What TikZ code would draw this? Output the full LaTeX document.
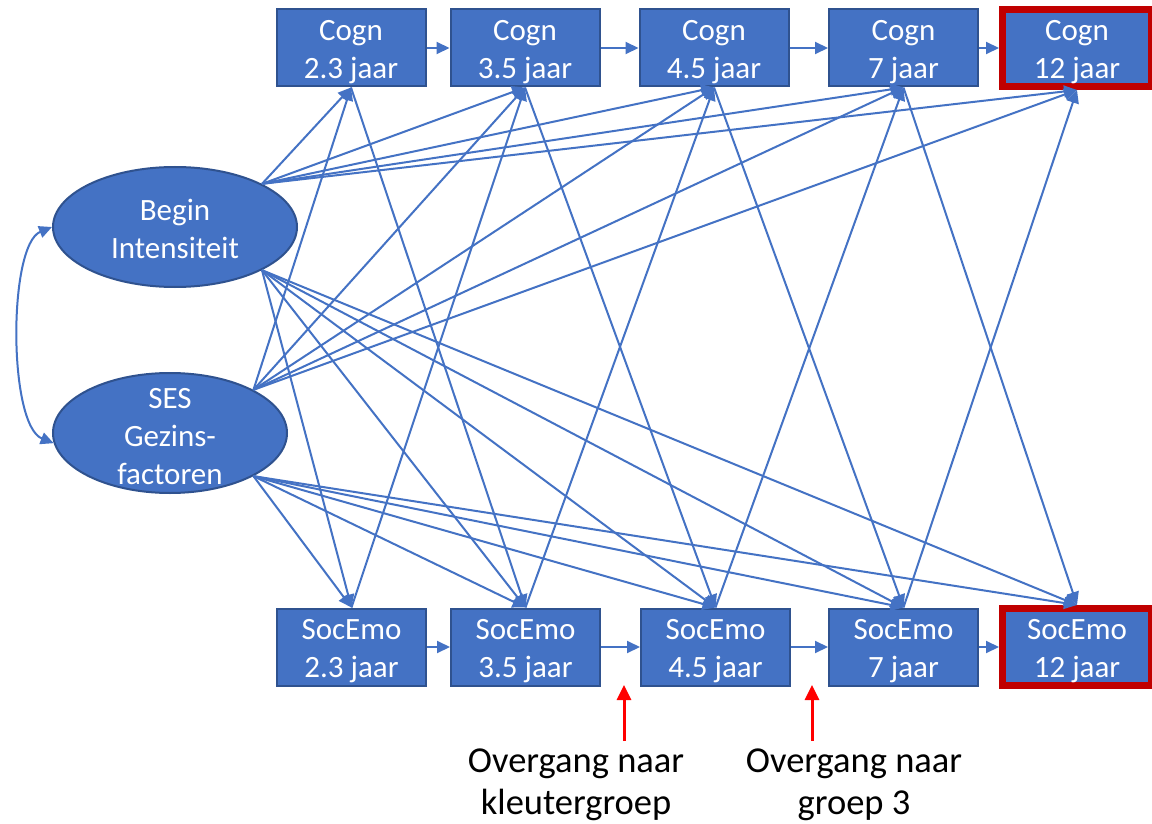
\documentclass[tikz,border=0pt]{standalone}
\usepackage{fontspec}
\setmainfont{Carlito}
\usetikzlibrary{arrows.meta,shapes.geometric}
\definecolor{obl}{HTML}{4472C4}
\definecolor{obd}{HTML}{2F528F}
\definecolor{frm}{HTML}{C00000}
\definecolor{rarr}{HTML}{FF0000}
\begin{document}
\begin{tikzpicture}[x=1pt,y=-1pt,
  box/.style={rectangle,fill=obl,draw=obd,line width=2pt,minimum width=149pt,minimum height=77pt,inner sep=0pt,text=white,align=center,text height=67pt,text depth=6pt,font=\fontsize{31}{38}\selectfont},
  endbox/.style={box,draw=frm,line width=7pt},
  lat/.style={ellipse,fill=obl,draw=obd,line width=2pt,inner sep=0pt},
  lattext/.style={text=white,align=center,font=\fontsize{31}{38}\selectfont,inner sep=0pt},
  lnk/.style={draw=obl,line width=2pt,-{Triangle[length=13pt,width=12pt]}},
  dlnk/.style={draw=obl,line width=2pt,{Triangle[length=13pt,width=12pt]}-{Triangle[length=13pt,width=12pt]}},
  redarr/.style={draw=rarr,line width=3pt,-{Triangle[length=15pt,width=14pt]}},
  note/.style={align=center,font=\fontsize{36.5}{41.5}\selectfont,text=black,inner sep=0pt}
]
\useasboundingbox (0,0) rectangle (1152,824);
\fill[white] (0,0) rectangle (1152,824);

% top row
\node[box] (c1) at (351,48) {Cogn\\2.3 jaar};
\node[box] (c2) at (525,48) {Cogn\\3.5 jaar};
\node[box] (c3) at (714,48) {Cogn\\4.5 jaar};
\node[box] (c4) at (903.5,48) {Cogn\\7 jaar};
\node[endbox] (c5) at (1077,48) {Cogn\\12 jaar};

% bottom row
\node[box] (s1) at (351.5,647) {SocEmo\\2.3 jaar};
\node[box] (s2) at (525.5,647) {SocEmo\\3.5 jaar};
\node[box] (s3) at (715.5,647) {SocEmo\\4.5 jaar};
\node[box] (s4) at (903.5,647) {SocEmo\\7 jaar};
\node[endbox] (s5) at (1077,647) {SocEmo\\12 jaar};

% latent variables
\node[lat,minimum width=244pt,minimum height=120pt,
  label={[lattext,yshift=-2pt]center:Begin\\Intensiteit}] (bi) at (175,227) {};
\node[lat,minimum width=234pt,minimum height=120pt,
  label={[lattext,yshift=-3.5pt]center:SES\\Gezins-\\factoren}] (ses) at (170,433) {};

% horizontal autoregressive paths
\foreach \a/\b in {c1/c2,c2/c3,c3/c4,c4/c5,s1/s2,s2/s3,s3/s4,s4/s5}
  \draw[lnk] (\a) -- (\b);

% paths from latent variables
\foreach \i in {1,...,5}{
  \draw[lnk] (bi.north east) -- (c\i.south);
  \draw[lnk] (bi.south east) -- (s\i.north);
  \draw[lnk] (ses.north east) -- (c\i.south);
  \draw[lnk] (ses.south east) -- (s\i.north);
}

% cross-lagged paths
\foreach \a/\b in {1/2,2/3,3/4,4/5}{
  \draw[lnk] (c\a.south) -- (s\b.north);
  \draw[lnk] (s\a.north) -- (c\b.south);
}

% correlation
\draw[dlnk] (bi.west) .. controls (8,245) and (8,425) .. (ses.185);

% transitions
\node[note] (n1) at (576,785) {Overgang naar\\kleutergroep};
\node[note] (n2) at (854,785) {Overgang naar\\groep 3};
\coordinate (a1) at (624,741);
\coordinate (a1e) at (624,685);
\coordinate (a2) at (812,741);
\coordinate (a2e) at (812,685);
\draw[redarr] (a1) -- (a1e);
\draw[redarr] (a2) -- (a2e);
\end{tikzpicture}
\end{document}
